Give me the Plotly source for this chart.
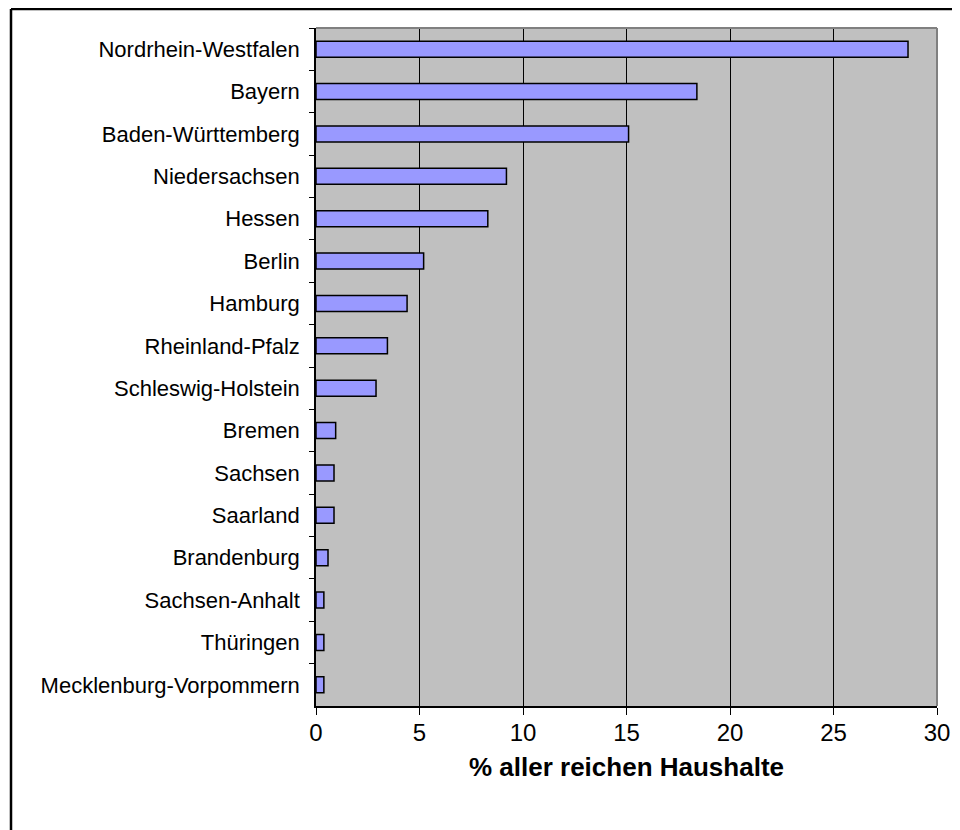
import plotly.graph_objects as go

states = ["Nordrhein-Westfalen", "Bayern", "Baden-Württemberg", "Niedersachsen", "Hessen",
          "Berlin", "Hamburg", "Rheinland-Pfalz", "Schleswig-Holstein", "Bremen", "Sachsen",
          "Saarland", "Brandenburg", "Sachsen-Anhalt", "Thüringen", "Mecklenburg-Vorpommern"]
shares = [28.6, 18.4, 15.1, 9.2, 8.3, 5.2, 4.4, 3.45, 2.9, 0.95, 0.87, 0.87, 0.58, 0.38, 0.38, 0.38]
x_ticks = [0, 5, 10, 15, 20, 25, 30]
x_title = "% aller reichen Haushalte"

# figure sits in the page with the default 8px body margin
W, H = 944, 822
L, R, T, B = 308, 15, 20, 124
pw, ph = W - L - R, H - T - B

def px(p):
    return (p - L) / pw

def py(q):
    return (H - B - q) / ph

fig = go.Figure(go.Bar(
    x=shares, y=states, orientation="h",
    marker=dict(color="#9999FF", line=dict(color="black", width=1.5)),
))

fig.update_layout(
    width=W, height=H,
    margin=dict(l=L, r=R, t=T, b=B, autoexpand=False),
    paper_bgcolor="white", plot_bgcolor="#C0C0C0",
    bargap=0.62, showlegend=False,
    font=dict(family="Liberation Sans, Arial, sans-serif", color="black"),
    xaxis=dict(range=[0, 30], tickvals=x_ticks, ticks="outside", ticklen=7, tickcolor="black",
               showgrid=True, gridcolor="black", gridwidth=1, zeroline=False,
               showline=True, linecolor="black", linewidth=1.5, automargin=False,
               tickfont=dict(size=24), ticklabelstandoff=-3,
               title=dict(text="<b>" + x_title + "</b>", font=dict(size=26), standoff=13)),
    yaxis=dict(autorange="reversed", ticks="outside", ticklen=5, tickcolor="black",
               tickson="boundaries", showline=True, linecolor="black", linewidth=1.5,
               showgrid=False, automargin=False, tickfont=dict(size=22), ticklabelstandoff=10),
    shapes=[
        dict(type="line", xref="paper", yref="paper", x0=0, x1=1, y0=1, y1=1,
             line=dict(color="#808080", width=2), layer="above"),
        dict(type="line", xref="paper", yref="paper", x0=1, x1=1, y0=0, y1=1,
             line=dict(color="#808080", width=2), layer="above"),
        dict(type="line", xref="paper", yref="paper", x0=px(3), x1=px(W + 20), y0=py(1), y1=py(1),
             line=dict(color="black", width=2.5), layer="below"),
        dict(type="line", xref="paper", yref="paper", x0=px(3), x1=px(3), y0=py(1), y1=py(H + 20),
             line=dict(color="black", width=2.5), layer="below"),
    ],
)

fig.write_html("out.html")
